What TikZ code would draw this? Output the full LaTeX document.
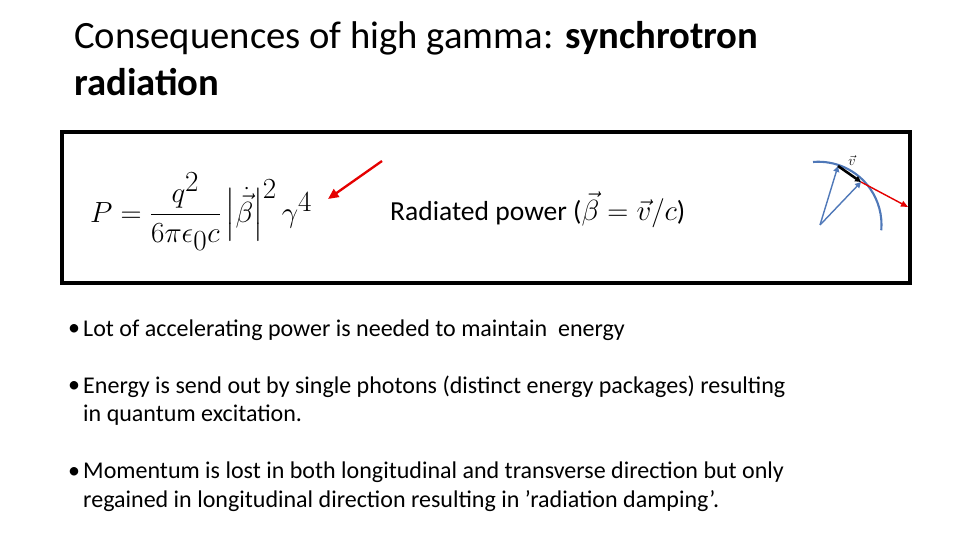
\documentclass[tikz,border=0pt]{standalone}
\usepackage{fontspec}
\setmainfont{Carlito}
\usepackage{amsmath}
\usetikzlibrary{arrows.meta}
\definecolor{steel}{HTML}{4F78B8}
\begin{document}
\begin{tikzpicture}[x=0.03cm,y=-0.03cm,
 body/.style={anchor=west,font=\fontsize{20.5}{24}\selectfont,align=left,inner sep=0},
 bul/.style={font=\fontsize{20.5}{24}\selectfont,inner sep=0},
 bl/.style={draw=steel,line width=1.8pt}]
\useasboundingbox (0,0) rectangle (960,540);
\node[anchor=west,inner sep=0,font=\fontsize{33}{40}\selectfont,align=left] (t) at (74,59)
 {Consequences of high gamma: \textbf{synchrotron}\\\textbf{radiation}};
\draw[line width=3.5pt] (62,132) rectangle (910,283);
\node[anchor=west,inner sep=0,font=\fontsize{34}{38}\selectfont] (f) at (90,212)
 {$P=\dfrac{q^2}{6\pi\epsilon_0 c}\left|\dot{\vec\beta}\right|^2\gamma^4$};
\node[anchor=west,inner sep=0,font=\fontsize{23.5}{26}\selectfont] (r) at (390,210)
 {Radiated power ($\vec\beta=\vec v/c$)};
\coordinate (a1) at (382,161); \coordinate (a2) at (328,199);
\draw[red!90!black,line width=2pt,-{Triangle[length=9pt,width=8pt]}] (a1)--(a2);
% right diagram
\coordinate (c) at (820,225);
\draw[bl] (813,162) arc[start angle=-95,end angle=5,radius=63];
\coordinate (p1) at (838,166); \coordinate (p2) at (861,182); \coordinate (p3) at (908,207);
\draw[bl,line width=1.2pt,-{Triangle[length=5pt,width=5pt]}] (c)--(p1);
\draw[bl,line width=1.2pt,-{Triangle[length=5pt,width=5pt]}] (c)--(p2);
\draw[line width=2.2pt,-{Triangle[length=5pt,width=5pt]}] (p1)--(p2);
\draw[red!90!black,line width=1.2pt,-{Triangle[length=6pt,width=5pt]}] (p2)--(p3);
\node[inner sep=0,font=\fontsize{13}{14}\selectfont] (v) at (852,160) {$\vec v$};
% bullets
\node[bul] (u1) at (74,330) {•};
\node[body] (b1) at (83,330) {Lot of accelerating power is needed to maintain\ \ energy};
\node[bul] (u2) at (74,387) {•};
\node[body,anchor=north west] (b2) at (83,376) {Energy is send out by single photons (distinct energy packages) resulting\\in quantum excitation.};
\node[bul] (u3) at (74,473) {•};
\node[body,anchor=north west] (b3) at (83,462) {Momentum is lost in both longitudinal and transverse direction but only\\regained in longitudinal direction resulting in ’radiation damping’.};
\end{tikzpicture}
\end{document}
